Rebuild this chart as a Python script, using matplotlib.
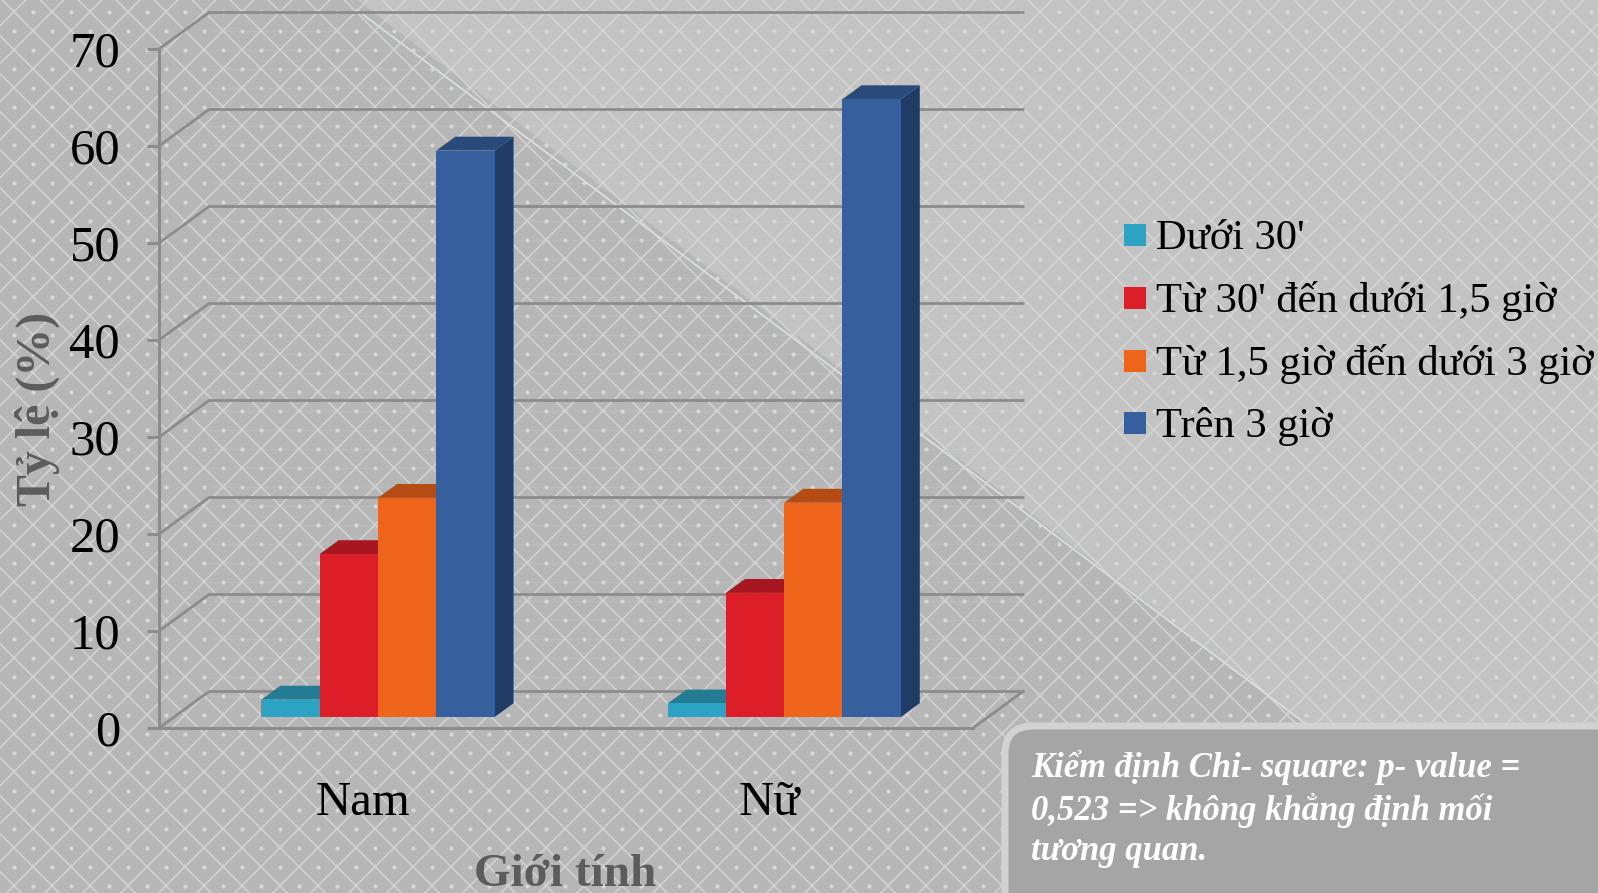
import numpy as np
import matplotlib
matplotlib.use('Agg')
import matplotlib.pyplot as plt
from matplotlib.patches import FancyBboxPatch, Polygon

plt.rcParams['font.family'] = ['Liberation Serif', 'DejaVu Serif']

W, H = 1598, 893

groups = ['Nam', 'Nữ']
series = ['Dưới 30\'', 'Từ 30\' đến dưới 1,5 giờ', 'Từ 1,5 giờ đến dưới 3 giờ', 'Trên 3 giờ']
nam = [1.8, 16.8, 22.6, 58.4]
nu = [1.4, 12.8, 22.1, 63.7]
yticks = [0, 10, 20, 30, 40, 50, 60, 70]

front = ['#2ca3c2', '#dc1e28', '#ee641b', '#36609d']
top = ['#217c94', '#a8161f', '#b44c14', '#294a7a']
side = ['#1b667a', '#8c1219', '#963f10', '#213c64']

fig = plt.figure(figsize=(W / 100, H / 100), dpi=100)

# background, in pixels
bg = fig.add_axes([0, 0, 1, 1])
bg.set_xlim(0, W)
bg.set_ylim(H, 0)
bg.axis('off')
fig.patch.set_facecolor('#b6b6b6')
bg.add_patch(Polygon([(357, 0), (W, 0), (W, H), (1395, H), (1310, 727)], fc='#c3c3c3', ec='none', zorder=0))
bg.plot([357, 1310], [10, 727], color='#d8e4e2', lw=1.2, zorder=1)
step = 38
for k in range(-40, 80):
    c = 2.3 + k * step
    bg.plot([c, c + H], [0, H], color='#dadada', lw=1.3, alpha=.7, zorder=1)
    c2 = 25.7 + k * step
    bg.plot([c2, c2 - H], [0, H], color='#dadada', lw=1.3, alpha=.7, zorder=1)
dx, dy = [], []
for i in range(-4, 44):
    for j in range(-1, 25):
        dx += [147.3 + i * step, 166 + i * step]
        dy += [11.7 + j * step, 30.7 + j * step]
bg.scatter(dx, dy, s=9, color='#d8d8d8', lw=0, zorder=1)
# faint smeared rows on the chart walls
for j in range(1, 37):
    bg.plot([209, 1022], [11.7 + j * 19, 11.7 + j * 19], color='#d8d8d8', lw=1, alpha=.2, zorder=1)

# chart plane
x0, x1, y0, y1 = 159, 973, 728, 49
ax = fig.add_axes([x0 / W, 1 - y0 / H, (x1 - x0) / W, (y0 - y1) / H])
ax.set_xlim(0, 2)
ax.set_ylim(0, 70)
ax.patch.set_alpha(0)
DX = 50 / (x1 - x0) * 2
DY = 36.5 / (y0 - y1) * 70
grid = '#8c8c8c'


def proj(x, y, d):
    return x + d * DX, y + d * DY


for v in yticks:
    pts = [proj(0, v, 0), proj(0, v, 1), proj(2, v, 1)]
    ax.plot(*zip(*pts), color=grid, lw=2, clip_on=False, solid_joinstyle='miter')
ax.plot(*zip(proj(2, 0, 0), proj(2, 0, 1)), color=grid, lw=2, clip_on=False)

for s in ['top', 'right']:
    ax.spines[s].set_visible(False)
for s in ['left', 'bottom']:
    ax.spines[s].set_color(grid)
    ax.spines[s].set_linewidth(2.2)
ax.set_xticks([0.5, 1.5])
ax.set_xticklabels(groups, fontsize=35, color='black')
ax.set_yticks(yticks)
ax.set_yticklabels([str(v) for v in yticks], fontsize=36.5, color='black')
ax.tick_params(axis='y', length=9, width=2.2, color=grid, pad=19)
ax.tick_params(axis='x', length=0, pad=38)
ax.set_ylabel('Tỷ lệ (%)', fontsize=34.5, fontweight='bold', color='#5c5c5c', va='center')
ax.yaxis.set_label_coords(-0.150, 0.47)
ax.set_xlabel('Giới tính', fontsize=34, fontweight='bold', color='#5c5c5c')
ax.xaxis.set_label_coords(0.4995, -0.186)

# bars with their 3d faces
bw = 0.1432
d0, d1 = 0.30, 0.68
for cx, vals in zip([0.5012, 1.4993], [nam, nu]):
    for i, v in enumerate(vals):
        l = cx + (i - 2) * bw
        r = l + bw
        ax.fill(*zip(proj(l, 0, d0), proj(r, 0, d0), proj(r, v, d0), proj(l, v, d0)),
                color=front[i], lw=0, clip_on=False, zorder=3 + i * .1)
        ax.fill(*zip(proj(l, v, d0), proj(r, v, d0), proj(r, v, d1), proj(l, v, d1)),
                color=top[i], lw=0, clip_on=False, zorder=2.9 + i * .1)
        ax.fill(*zip(proj(r, 0, d0), proj(r, v, d0), proj(r, v, d1), proj(r, 0, d1)),
                color=side[i], lw=0, clip_on=False, zorder=2.8 + i * .1)

# legend
for i, name in enumerate(series):
    y = 235 + i * 62.8
    bg.add_patch(plt.Rectangle((1124, y - 11), 22, 22, fc=front[i], ec='none', zorder=2))
    bg.text(1156, y + 3.5, name, fontsize=30.6, color='black', va='center', ha='left', zorder=2)

# note box
bg.add_patch(FancyBboxPatch((1005, 726), 640, 210, boxstyle='round,pad=0,rounding_size=28',
                            fc='#a5a5a5', ec='#d2d2d2', lw=5, zorder=2))
note = 'Kiểm định Chi- square: p- value =\n0,523 => không khẳng định mối\ntương quan.'
bg.text(1031, 809, note, fontsize=24.9, color='white', style='italic', fontweight='bold',
        va='center', ha='left', linespacing=1.29, zorder=3)

fig.savefig('out.png', dpi=100, facecolor=fig.get_facecolor())
